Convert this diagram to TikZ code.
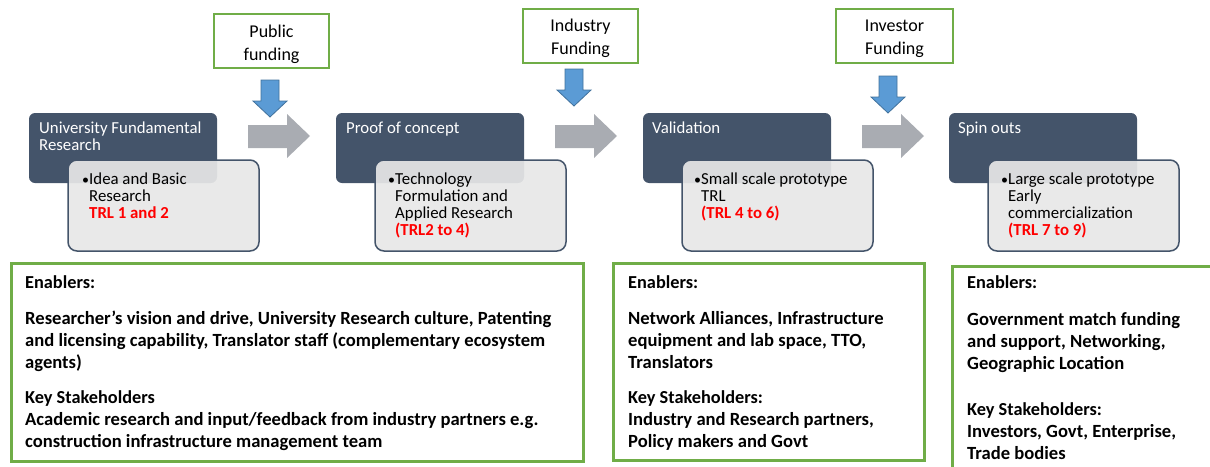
\documentclass[tikz,border=0pt]{standalone}
\usepackage{fontspec}
\setmainfont{Carlito}
\definecolor{darkfill}{HTML}{44546A}
\definecolor{lightfill}{HTML}{E7E7E7}
\definecolor{garrow}{HTML}{A9ACB2}
\definecolor{barrow}{HTML}{5B9BD5}
\definecolor{barrowline}{HTML}{41719C}
\definecolor{gline}{HTML}{70AD47}
\definecolor{trlred}{HTML}{FF0000}
\newcommand{\lines}[2]{\parbox[t]{#1}{#2}}
\begin{document}
\begin{tikzpicture}[x=1pt,y=-1pt,
  darkbox/.style={fill=darkfill, rounded corners=6pt},
  lightbox/.style={fill=lightfill, fill opacity=0.92, draw=darkfill, line width=1.5pt, rounded corners=9pt},
  greenbox/.style={draw=gline, line width=3pt, fill=white},
  fundframe/.style={draw=gline, line width=2.5pt, fill=white},
  fundtext/.style={align=center, inner sep=0pt, font=\fontsize{18}{23}\selectfont},
  garrowshape/.style={fill=garrow},
  barrowshape/.style={fill=barrow, draw=barrowline, line width=0.8pt},
  title/.style={anchor=base west, inner sep=0pt, text=white, font=\fontsize{16.8}{17}\selectfont},
  bul/.style={anchor=base west, inner sep=0pt, font=\fontsize{14}{17}\selectfont},
  ltext/.style={anchor=base west, inner sep=0pt, font=\fontsize{16.8}{17}\selectfont},
  enab/.style={anchor=base west, inner sep=0pt, font=\fontsize{18.3}{22}\selectfont\bfseries},
  keyh/.style={anchor=base west, inner sep=0pt, font=\fontsize{18.3}{22}\selectfont\bfseries},
  body/.style={anchor=base west, inner sep=0pt, font=\fontsize{18.6}{22}\selectfont\bfseries}
]
\useasboundingbox (0,0) rectangle (1210,466);

% ---- stage boxes ----
\foreach \L in {29,336,643,949}{
  \fill[darkbox] (\L,113) rectangle ({\L+188},183);
  \path[lightbox] ({\L+39},160) rectangle ({\L+230},251);
}

% ---- grey arrows ----
\foreach \L in {248,555,862}{
  \fill[garrowshape] (\L,125) -- ({\L+39},125) -- ({\L+39},114) -- ({\L+62},136) -- ({\L+39},158) -- ({\L+39},148) -- (\L,148) -- cycle;
}

% ---- blue arrows ----
\foreach \L/\T in {253/80,557/69,871/76}{
  \path[barrowshape] ({\L+8},\T) -- ({\L+26},\T) -- ({\L+26},{\T+21}) -- ({\L+34},{\T+21}) -- ({\L+17},{\T+37}) -- (\L,{\T+21}) -- ({\L+8},{\T+21}) -- cycle;
}

% ---- funding boxes ----
\path[fundframe] (214,14) rectangle (329,68);
\path[fundframe] (523,9) rectangle (638,63);
\path[fundframe] (836,9) rectangle (953,63);
\node[fundtext] (f1) at (271.5,44) {Public\\funding};
\node[fundtext] (f2) at (580.5,38.5) {Industry\\Funding};
\node[fundtext] (f3) at (894.5,38.5) {Investor\\Funding};

% ---- titles ----
\node[title] (t1) at (39,133) {\lines{175pt}{University Fundamental\\Research}};
\node[title] (t2) at (346,133) {Proof of concept};
\node[title] (t3) at (652,133) {Validation};
\node[title] (t4) at (958,133) {Spin outs};

% ---- light box texts ----
\node[bul] (b1) at (82,184) {•};
\node[ltext] (l1) at (89,184) {\lines{165pt}{Idea and Basic\\Research\\\textcolor{trlred}{\bfseries TRL 1 and 2}}};
\node[bul] (b2) at (388,184) {•};
\node[ltext] (l2) at (395,184) {\lines{165pt}{Technology\\Formulation and\\Applied Research\\\textcolor{trlred}{\bfseries (TRL2 to 4)}}};
\node[bul] (b3) at (694,184) {•};
\node[ltext] (l3) at (701,184) {\lines{165pt}{Small scale prototype\\TRL\\\textcolor{trlred}{\bfseries (TRL 4 to 6)}}};
\node[bul] (b4) at (1001,184) {•};
\node[ltext] (l4) at (1008,184) {\lines{165pt}{Large scale prototype\\Early\\commercialization\\\textcolor{trlred}{\bfseries (TRL 7 to 9)}}};

% ---- bottom boxes ----
\draw[greenbox] (11,263) rectangle (583,461);
\draw[greenbox] (613,263) rectangle (924,460);
\draw[greenbox] (952,266) rectangle (1220,480);

\node[enab] (e1) at (25,288) {Enablers:};
\node[body] (e1b) at (25,324) {\lines{560pt}{Researcher’s vision and drive, University Research culture, Patenting\\and licensing capability, Translator staff (complementary ecosystem\\agents)}};
\node[keyh] (k1) at (25,403) {Key Stakeholders};
\node[body] (k1b) at (25,425) {\lines{560pt}{Academic research and input/feedback from industry partners e.g.\\construction infrastructure management team}};

\node[enab] (e2) at (628,288) {Enablers:};
\node[body] (e2b) at (628,324) {\lines{290pt}{Network Alliances, Infrastructure\\equipment and lab space, TTO,\\Translators}};
\node[keyh] (k2) at (628,403) {Key Stakeholders:};
\node[body] (k2b) at (628,425) {\lines{290pt}{Industry and Research partners,\\Policy makers and Govt}};

\node[enab] (e3) at (967,288) {Enablers:};
\node[body] (e3b) at (967,325) {\lines{240pt}{Government match funding\\and support, Networking,\\Geographic Location}};
\node[keyh] (k3) at (967,415) {Key Stakeholders:};
\node[body] (k3b) at (967,437) {\lines{240pt}{Investors, Govt, Enterprise,\\Trade bodies}};
\end{tikzpicture}
\end{document}
